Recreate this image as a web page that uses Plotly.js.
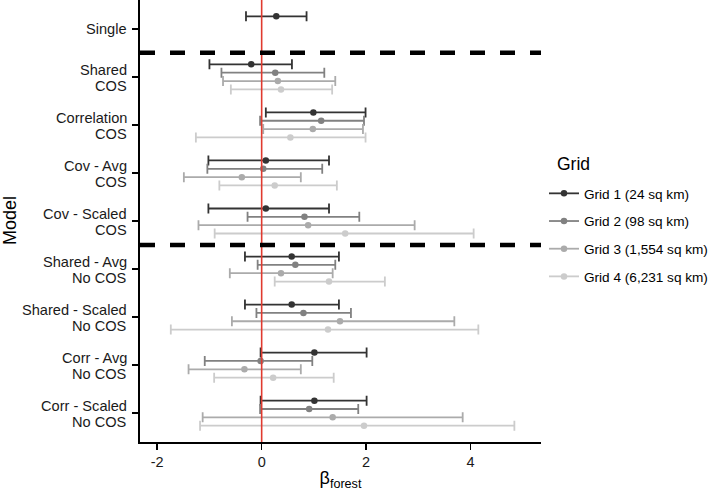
<!DOCTYPE html>
<html><head><meta charset="utf-8">
<script src="https://cdn.plot.ly/plotly-3.0.1.min.js"></script>
<style>html,body{margin:0;padding:0;background:#fff}</style>
</head><body><div id="chart" style="width:709px;height:491px"></div>
<script>
const models = ["Single","Shared<br>COS","Correlation<br>COS","Cov - Avg<br>COS","Cov - Scaled<br>COS","Shared - Avg<br>No COS","Shared - Scaled<br>No COS","Corr - Avg<br>No COS","Corr - Scaled<br>No COS"];
const gridNames = ["Grid 1 (24 sq km)","Grid 2 (98 sq km)","Grid 3 (1,554 sq km)","Grid 4 (6,231 sq km)"];
const gridColors = ["#333333","#818181","#ababab","#cccccc"];
const xTickVals = [-2,0,2,4];
const xTickText = ["-2","0","2","4"];

const g1Est = [0.28,-0.20,0.99,0.08,0.08,0.575,0.575,1.01,1.01];
const g1Lo  = [-0.30,-1.00,0.08,-1.02,-1.02,-0.32,-0.32,-0.02,-0.02];
const g1Hi  = [0.86,0.58,1.99,1.29,1.29,1.48,1.48,2.01,2.01];
const g2Est = [null,0.26,1.14,0.03,0.82,0.645,0.80,-0.02,0.91];
const g2Lo  = [null,-0.77,-0.03,-1.04,-0.27,-0.077,-0.10,-1.09,-0.03];
const g2Hi  = [null,1.20,1.96,1.16,1.87,1.41,1.71,0.97,1.85];
const g3Est = [null,0.31,0.98,-0.38,0.89,0.37,1.50,-0.33,1.36];
const g3Lo  = [null,-0.74,0.03,-1.49,-1.21,-0.61,-0.57,-1.40,-1.13];
const g3Hi  = [null,1.41,1.94,0.75,2.93,1.36,3.69,0.75,3.85];
const g4Est = [null,0.37,0.55,0.25,1.60,1.29,1.27,0.22,1.96];
const g4Lo  = [null,-0.59,-1.26,-0.81,-0.90,0.25,-1.74,-0.91,-1.18];
const g4Hi  = [null,1.35,1.99,1.44,4.06,2.36,4.15,1.38,4.84];

const series = [[g1Est,g1Lo,g1Hi],[g2Est,g2Lo,g2Hi],[g3Est,g3Lo,g3Hi],[g4Est,g4Lo,g4Hi]];
const dodge = 0.1736;
const FONT = "Liberation Sans, Arial, sans-serif";

const traces = [];
series.forEach(function(s, g){
  const est = s[0], lo = s[1], hi = s[2];
  const xs = [], ys = [], ep = [], em = [];
  est.forEach(function(v, i){
    if (v === null) return;
    xs.push(v);
    ys.push(i + (g - 1.5) * dodge);
    ep.push(hi[i] - v);
    em.push(v - lo[i]);
  });
  traces.push({
    type: "scatter", mode: "markers", x: xs, y: ys, showlegend: false,
    marker: {color: gridColors[g], size: 6.5},
    error_x: {type: "data", symmetric: false, array: ep, arrayminus: em,
              color: gridColors[g], thickness: 1.8, width: 5},
    hoverinfo: "skip"
  });
});
gridNames.forEach(function(name, g){
  traces.push({
    type: "scatter", mode: "lines+markers", x: [null], y: [null], name: name,
    legendgroup: "g" + g,
    line: {color: gridColors[g], width: 1.8},
    marker: {color: gridColors[g], size: 6.5}
  });
});

// category labels (two lines each, tighter line spacing than plotly's tick labels)
const annotations = [];
models.forEach(function(m, i){
  const lines = m.split("<br>");
  const shifts = lines.length === 1 ? [0] : [7.2, -9.0];
  lines.forEach(function(t, k){
    annotations.push({
      xref: "paper", yref: "y", x: 0, y: i, xanchor: "right", yanchor: "middle",
      xshift: -11, yshift: shifts[k], showarrow: false, text: t,
      font: {family: FONT, size: 14.6, color: "#1a1a1a"}
    });
  });
});
annotations.push({
  xref: "paper", yref: "paper", x: -130/401, y: 0.5, xanchor: "center", yanchor: "middle",
  textangle: -90, showarrow: false, text: "Model",
  font: {family: FONT, size: 18, color: "#000"}
});
annotations.push({
  xref: "paper", yref: "paper", x: 1.0349, y: (442 - 163.5) / 442, xanchor: "left", yanchor: "middle",
  showarrow: false, text: "Grid",
  font: {family: FONT, size: 17.5, color: "#000"}
});

const axisCommon = {
  showline: true, linecolor: "#000", linewidth: 1.8, mirror: false,
  ticks: "outside", ticklen: 6, tickwidth: 1.5, tickcolor: "#000",
  showgrid: false, zeroline: false, automargin: false,
  tickfont: {family: FONT, size: 14.5, color: "#1a1a1a"}
};

const layout = {
  width: 709, height: 491,
  margin: {l: 140, r: 168, t: 0, b: 49},
  paper_bgcolor: "#fff", plot_bgcolor: "#fff",
  font: {family: FONT, color: "#000"},
  showlegend: true,
  annotations: annotations,
  xaxis: Object.assign({}, axisCommon, {
    range: [-2.33, 5.35], tickmode: "array", tickvals: xTickVals, ticktext: xTickText,
    title: {text: "β<sub>forest</sub>", font: {family: FONT, size: 18, color: "#000"}, standoff: 12}
  }),
  yaxis: Object.assign({}, axisCommon, {
    range: [8.6, -0.6], tickmode: "array",
    tickvals: models.map(function(m, i){ return i; }), showticklabels: false
  }),
  legend: {
    xref: "container", yref: "container", x: 544/709, y: 1 - 178/491,
    xanchor: "left", yanchor: "top",
    font: {family: FONT, size: 13.6, color: "#000"},
    tracegroupgap: 7, bgcolor: "rgba(0,0,0,0)"
  },
  shapes: [
    {type: "line", xref: "x", yref: "paper", x0: 0, x1: 0, y0: 0, y1: 1,
     line: {color: "#e03a2f", width: 1.6}},
    {type: "line", xref: "paper", yref: "y", x0: 0, x1: 1, y0: 0.5, y1: 0.5,
     line: {color: "#000", width: 4.5, dash: "15px,15px"}},
    {type: "line", xref: "paper", yref: "y", x0: 0, x1: 1, y0: 4.5, y1: 4.5,
     line: {color: "#000", width: 4.5, dash: "15px,15px"}}
  ]
};

Plotly.newPlot("chart", traces, layout, {displayModeBar: false, staticPlot: true});
</script>
</body></html>
